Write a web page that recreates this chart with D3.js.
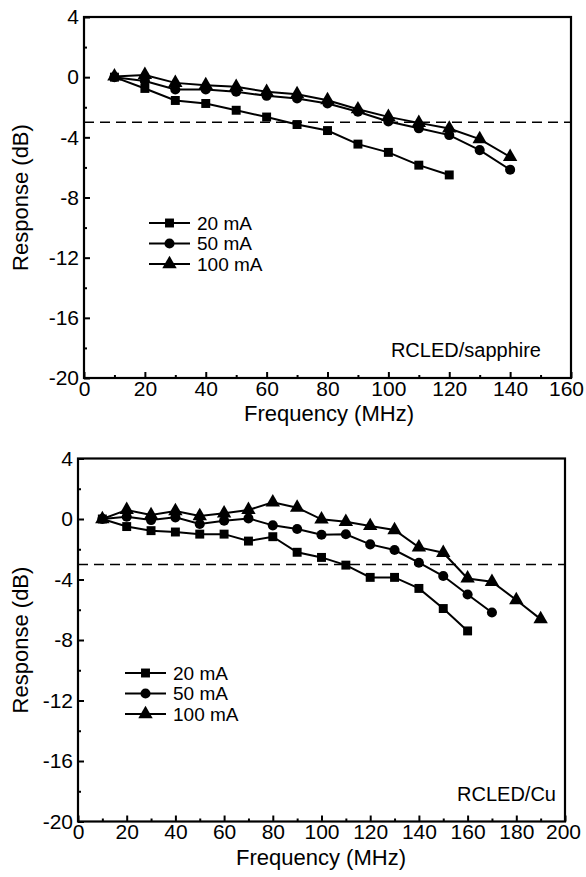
<!DOCTYPE html>
<html><head><meta charset="utf-8">
<script src="https://cdn.jsdelivr.net/npm/d3@7"></script>
<style>
body{margin:0;background:#fff;}
svg text{font-family:"Liberation Sans",Arial,sans-serif;fill:#000;}
</style></head>
<body><svg id="c" width="586" height="877"></svg>
<script>
// ---- data ----
const seriesNames = ["20 mA", "50 mA", "100 mA"];
const sapphireFreq20 = [10,20,30,40,50,60,70,80,90,100,110,120];
const sapphireFreq = [10,20,30,40,50,60,70,80,90,100,110,120,130,140];
const sapphire20 = [0,-0.75,-1.55,-1.75,-2.2,-2.65,-3.15,-3.55,-4.45,-5.0,-5.85,-6.5];
const sapphire50 = [0,-0.25,-0.82,-0.82,-0.97,-1.24,-1.42,-1.75,-2.3,-2.95,-3.4,-3.85,-4.85,-6.15];
const sapphire100 = [0.05,0.15,-0.38,-0.53,-0.64,-0.97,-1.13,-1.53,-2.13,-2.64,-3.04,-3.41,-4.12,-5.3];

const cuFreq20 = [10,20,30,40,50,60,70,80,90,100,110,120,130,140,150,160];
const cuFreq50 = [10,20,30,40,50,60,70,80,90,100,110,120,130,140,150,160,170];
const cuFreq100 = [10,20,30,40,50,60,70,80,90,100,110,120,130,140,150,160,170,180,190];
const cu20 = [0,-0.5,-0.77,-0.86,-1.0,-1.0,-1.46,-1.17,-2.2,-2.54,-3.05,-3.86,-3.86,-4.59,-5.92,-7.4];
const cu50 = [0,0.15,-0.07,0.11,-0.33,-0.11,0.04,-0.42,-0.66,-1.04,-1.01,-1.68,-2.05,-2.89,-3.77,-4.99,-6.18];
const cu100 = [0,0.6,0.26,0.53,0.2,0.38,0.6,1.1,0.75,-0.02,-0.18,-0.46,-0.73,-1.88,-2.23,-3.93,-4.15,-5.36,-6.62];

const yTicks = [-20,-16,-12,-8,-4,0,4];
const threshold = -3;

const svg = d3.select("#c");
const symbols = [d3.symbolSquare, d3.symbolCircle, d3.symbolTriangle];
const symSizes = [80, 80, 90];
const TICK_FS = 21, TITLE_FS = 22, LEG_FS = 19, NOTE_FS = 20;

function panel(cfg){
  const g = svg.append("g");
  const x = d3.scaleLinear().domain([0, cfg.xMax]).range([cfg.left, cfg.right]);
  const y = d3.scaleLinear().domain([-20, 4]).range([cfg.bottom, cfg.top]);
  const xMajor = d3.range(0, cfg.xMax + 1, 20);
  const xMinor = d3.range(10, cfg.xMax, 20);
  const yMinor = d3.range(-18, 4, 4);

  g.append("g").attr("transform",`translate(0,${cfg.bottom})`)
    .call(d3.axisBottom(x).tickValues(xMinor).tickSize(-3).tickFormat(""))
    .call(a=>a.select(".domain").remove());
  g.append("g").attr("transform",`translate(${cfg.left},0)`)
    .call(d3.axisLeft(y).tickValues(yMinor).tickSize(-3).tickFormat(""))
    .call(a=>a.select(".domain").remove());
  const xa = g.append("g").attr("transform",`translate(0,${cfg.bottom})`)
    .call(d3.axisBottom(x).tickValues(xMajor).tickSize(-6).tickPadding(3).tickFormat(d=>String(d)))
    .call(a=>a.select(".domain").remove());
  xa.selectAll("text").attr("font-size",TICK_FS).attr("y",2).attr("dy","0.76em")
    .attr("x",d=>d===cfg.xMax ? cfg.lastShift : 0);
  const ya = g.append("g").attr("transform",`translate(${cfg.left},0)`)
    .call(d3.axisLeft(y).tickValues(yTicks).tickSize(-6).tickFormat(d=>String(d)))
    .call(a=>a.select(".domain").remove());
  ya.selectAll("text").attr("font-size",TICK_FS).attr("x",-cfg.yPad);
  g.selectAll(".tick line").attr("stroke","#000").attr("stroke-width",2);

  g.append("rect").attr("x",cfg.left).attr("y",cfg.top)
    .attr("width",cfg.right-cfg.left).attr("height",cfg.bottom-cfg.top)
    .attr("fill","none").attr("stroke","#000").attr("stroke-width",2.2);

  g.append("line").attr("x1",cfg.left).attr("x2",cfg.right)
    .attr("y1",y(threshold)).attr("y2",y(threshold))
    .attr("stroke","#000").attr("stroke-width",1.5).attr("stroke-dasharray","10,6");

  const line = d3.line().x(d=>x(d[0])).y(d=>y(d[1]));
  cfg.series.forEach((s,i)=>{
    const pts = s.f.map((f,j)=>[f, s.v[j]]);
    g.append("path").datum(pts).attr("d",line)
      .attr("fill","none").attr("stroke","#000").attr("stroke-width",2);
    g.selectAll(null).data(pts).enter().append("path")
      .attr("d", d3.symbol().type(symbols[i]).size(symSizes[i]))
      .attr("transform",d=>`translate(${x(d[0])},${y(d[1])})`)
      .attr("fill","#000");
  });

  seriesNames.forEach((n,i)=>{
    const ly = cfg.legY + i*20.5;
    g.append("line").attr("x1",cfg.legX).attr("x2",cfg.legX+41).attr("y1",ly).attr("y2",ly)
      .attr("stroke","#000").attr("stroke-width",2);
    g.append("path").attr("d", d3.symbol().type(symbols[i]).size(symSizes[i]))
      .attr("transform",`translate(${cfg.legX+20.5},${ly})`).attr("fill","#000");
    g.append("text").attr("x",cfg.legX+48).attr("y",ly).attr("dy","0.36em")
      .attr("font-size",LEG_FS).text(n);
  });

  g.append("text").attr("x",cfg.noteX).attr("y",cfg.noteY).attr("text-anchor","end")
    .attr("font-size",NOTE_FS).text(cfg.note);

  g.append("text").attr("x",cfg.titleX).attr("y",cfg.bottom+43)
    .attr("text-anchor","middle").attr("font-size",TITLE_FS).text("Frequency (MHz)");
  g.append("text").attr("transform",`translate(28,${(cfg.top+cfg.bottom)/2}) rotate(-90)`)
    .attr("text-anchor","middle").attr("font-size",TITLE_FS).text("Response (dB)");
}

panel({xMax:160,left:84,right:571,top:17,bottom:378,yPad:5,lastShift:-5,titleX:329,
  series:[{f:sapphireFreq20,v:sapphire20},{f:sapphireFreq,v:sapphire50},{f:sapphireFreq,v:sapphire100}],
  legX:149,legY:223,note:"RCLED/sapphire",noteX:541,noteY:357});
panel({xMax:200,left:78,right:565,top:458.5,bottom:821.5,yPad:5,lastShift:-2,titleX:321,
  series:[{f:cuFreq20,v:cu20},{f:cuFreq50,v:cu50},{f:cuFreq100,v:cu100}],
  legX:125,legY:673,note:"RCLED/Cu",noteX:556,noteY:801});
</script></body></html>
